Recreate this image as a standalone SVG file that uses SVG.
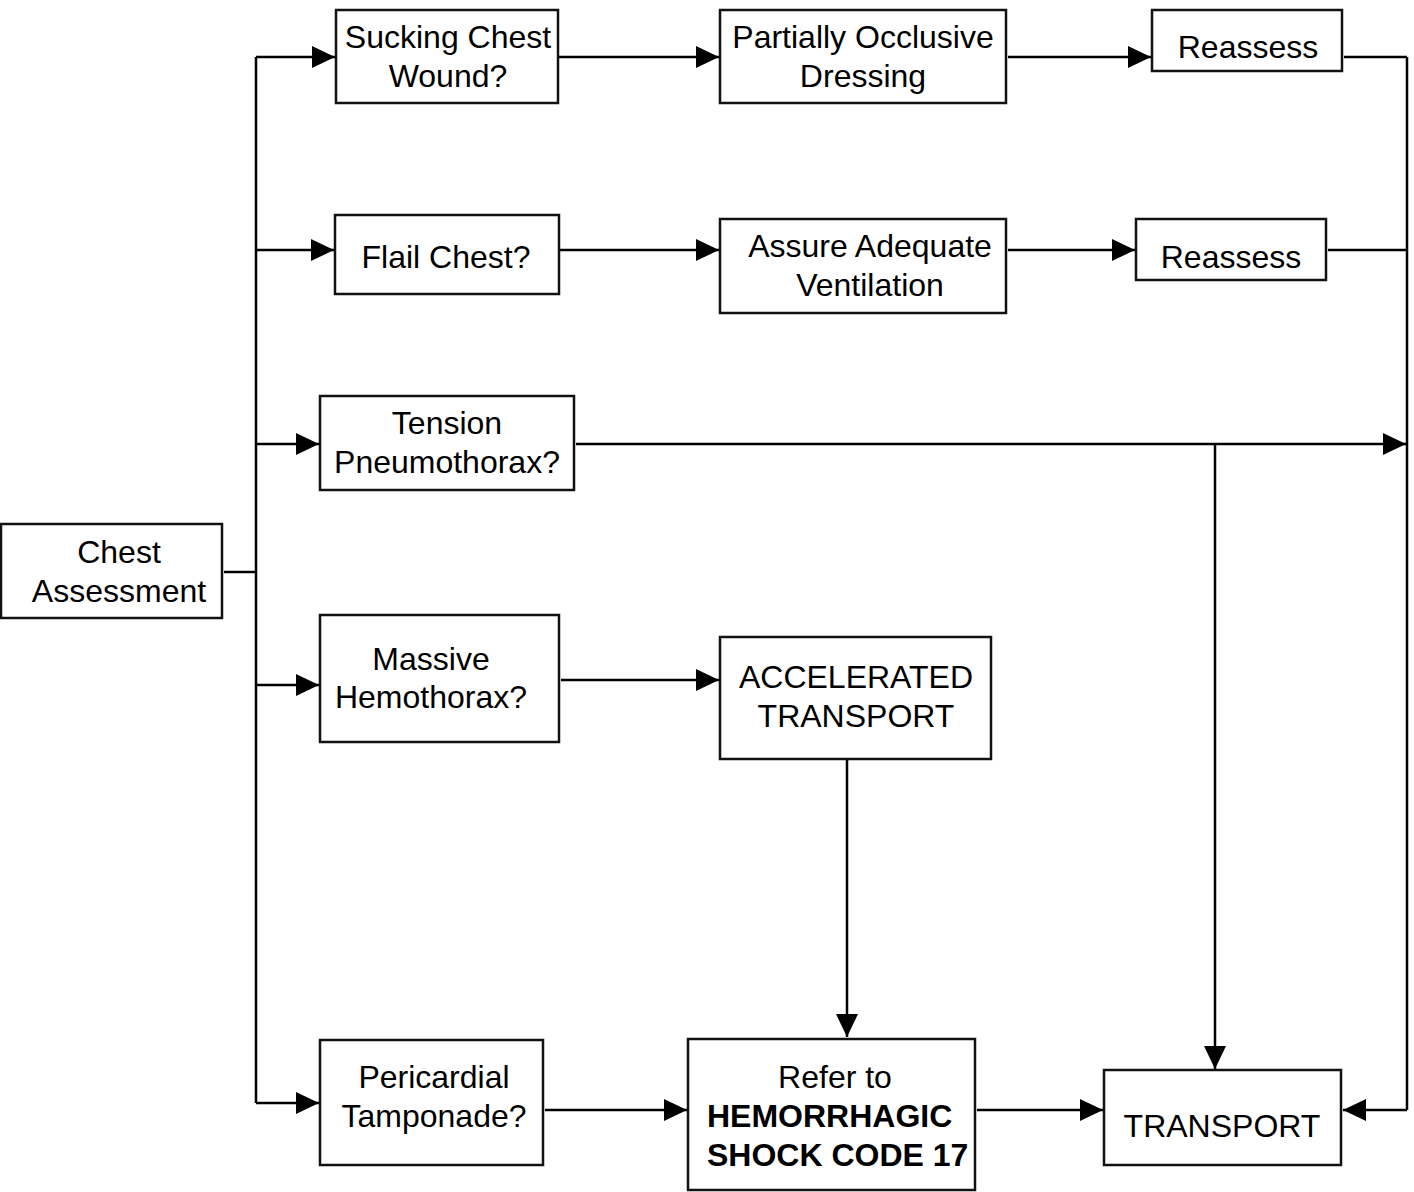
<svg xmlns="http://www.w3.org/2000/svg" width="1414" height="1192" viewBox="0 0 1414 1192">
  <style>
    .box { fill: #ffffff; stroke: #111111; stroke-width: 2.5; }
    .lbl { font-family: "Liberation Sans", Arial, sans-serif; font-size: 32px; fill: #000000; text-anchor: middle; }
    .bold { font-weight: bold; text-anchor: start; }
    .wire { fill: none; stroke: #000000; stroke-width: 2.5; }
    .arr { marker-end: url(#head); }
  </style>
  <defs>
    <marker id="head" markerUnits="userSpaceOnUse" markerWidth="24" markerHeight="22" refX="23" refY="11" orient="auto">
      <path d="M0,0 L23,11 L0,22 Z" fill="#000000"/>
    </marker>
  </defs>

  <rect width="1414" height="1192" fill="#ffffff"/>

  <!-- connectors -->
  <g id="connectors">
    <path class="wire" d="M224,572 H256"/>
    <path class="wire" d="M256,57 V1103"/>
    <path class="wire arr" d="M256,57 H335"/>
    <path class="wire arr" d="M256,250 H334"/>
    <path class="wire arr" d="M256,444 H319"/>
    <path class="wire arr" d="M256,685 H319"/>
    <path class="wire arr" d="M256,1103 H319"/>
    <path class="wire arr" d="M559,57 H719"/>
    <path class="wire arr" d="M1008,57 H1151"/>
    <path class="wire" d="M1344,57 H1407"/>
    <path class="wire arr" d="M560,250 H719"/>
    <path class="wire arr" d="M1008,250 H1135"/>
    <path class="wire" d="M1328,250 H1407"/>
    <path class="wire arr" d="M576,444 H1406"/>
    <path class="wire arr" d="M1215,444 V1069"/>
    <path class="wire" d="M1407,57 V1110"/>
    <path class="wire arr" d="M1407,1110 H1343"/>
    <path class="wire arr" d="M561,680 H719"/>
    <path class="wire arr" d="M847,760 V1037"/>
    <path class="wire arr" d="M545,1110 H687"/>
    <path class="wire arr" d="M977,1110 H1103"/>
  </g>

  <!-- nodes -->
  <g id="chest-assessment">
    <rect class="box" x="1" y="524" width="221" height="94"/>
    <text class="lbl" x="119" y="563">Chest</text>
    <text class="lbl" x="119" y="602">Assessment</text>
  </g>

  <g id="sucking-chest-wound">
    <rect class="box" x="336" y="10" width="222" height="93"/>
    <text class="lbl" x="448" y="48">Sucking Chest</text>
    <text class="lbl" x="448" y="87">Wound?</text>
  </g>

  <g id="partially-occlusive-dressing">
    <rect class="box" x="720" y="10" width="286" height="93"/>
    <text class="lbl" x="863" y="48">Partially Occlusive</text>
    <text class="lbl" x="863" y="87">Dressing</text>
  </g>

  <g id="reassess-1">
    <rect class="box" x="1152" y="10" width="190" height="61"/>
    <text class="lbl" x="1248" y="58">Reassess</text>
  </g>

  <g id="flail-chest">
    <rect class="box" x="335" y="215" width="224" height="79"/>
    <text class="lbl" x="446" y="268">Flail Chest?</text>
  </g>

  <g id="assure-adequate-ventilation">
    <rect class="box" x="720" y="219" width="286" height="94"/>
    <text class="lbl" x="870" y="257">Assure Adequate</text>
    <text class="lbl" x="870" y="296">Ventilation</text>
  </g>

  <g id="reassess-2">
    <rect class="box" x="1136" y="219" width="190" height="61"/>
    <text class="lbl" x="1231" y="268">Reassess</text>
  </g>

  <g id="tension-pneumothorax">
    <rect class="box" x="320" y="396" width="254" height="94"/>
    <text class="lbl" x="447" y="434">Tension</text>
    <text class="lbl" x="447" y="473">Pneumothorax?</text>
  </g>

  <g id="massive-hemothorax">
    <rect class="box" x="320" y="615" width="239" height="127"/>
    <text class="lbl" x="431" y="670">Massive</text>
    <text class="lbl" x="431" y="708">Hemothorax?</text>
  </g>

  <g id="accelerated-transport">
    <rect class="box" x="720" y="637" width="271" height="122"/>
    <text class="lbl" x="856" y="688">ACCELERATED</text>
    <text class="lbl" x="856" y="727">TRANSPORT</text>
  </g>

  <g id="pericardial-tamponade">
    <rect class="box" x="320" y="1040" width="223" height="125"/>
    <text class="lbl" x="434" y="1088">Pericardial</text>
    <text class="lbl" x="434" y="1127">Tamponade?</text>
  </g>

  <g id="hemorrhagic-shock-code">
    <rect class="box" x="688" y="1039" width="287" height="151"/>
    <text class="lbl" x="835" y="1088">Refer to</text>
    <text class="lbl bold" x="707" y="1127">HEMORRHAGIC</text>
    <text class="lbl bold" x="707" y="1166">SHOCK CODE 17</text>
  </g>

  <g id="transport">
    <rect class="box" x="1104" y="1070" width="237" height="95"/>
    <text class="lbl" x="1222" y="1137">TRANSPORT</text>
  </g>
</svg>
